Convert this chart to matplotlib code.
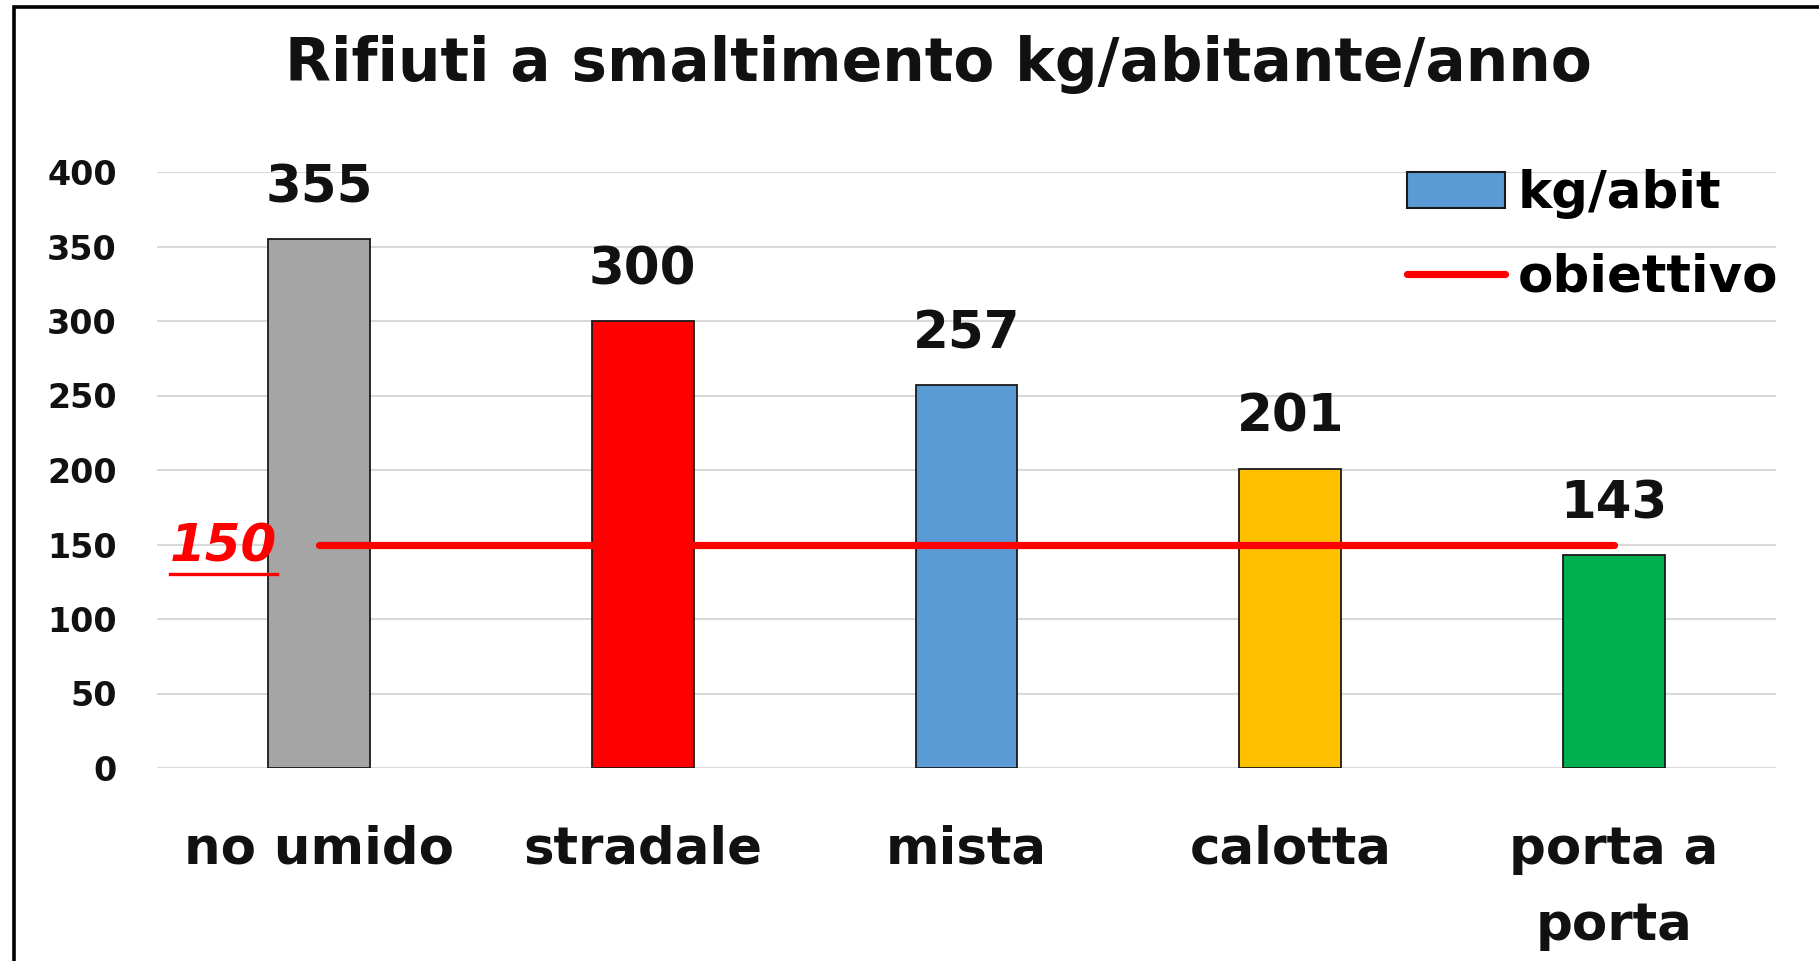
import matplotlib
matplotlib.use("Agg")
import matplotlib.pyplot as plt
from matplotlib.patches import Rectangle, Patch
from matplotlib.lines import Line2D

categories = ["no umido", "stradale", "mista", "calotta", "porta a\nporta"]
values = [355, 300, 257, 201, 143]
bar_colors = ["#A5A5A5", "#FF0000", "#5B9BD5", "#FFC000", "#00B050"]
target = [150, 150, 150, 150, 150]
yticks = [0, 50, 100, 150, 200, 250, 300, 350, 400]
title = "Rifiuti a smaltimento kg/abitante/anno"

plt.rcParams['font.family'] = ['DejaVu Sans']
plt.rcParams['font.weight'] = 'bold'

W, H = 1819, 961
fig = plt.figure(figsize=(W / 100, H / 100), dpi=100)
ax = fig.add_axes([157 / W, 1 - 768 / H, (1776 - 157) / W, (768 - 172) / H])

x = list(range(len(categories)))
bars = ax.bar(x, values, width=0.315, color=bar_colors, edgecolor="#1a1a1a",
              linewidth=1.3, zorder=2)
ax.plot(x, target, color="#FF0000", linewidth=5.2, solid_capstyle="round", zorder=3)

for xi, v in zip(x, values):
    ax.annotate(f"{v}", (xi, v), xytext=(0, 18.5), textcoords="offset points",
                ha="center", va="bottom", fontsize=37, fontweight="bold", color="#111111")

lab150 = ax.annotate(f"{target[0]}", (x[0], target[0]), xytext=(-30, -2), textcoords="offset points",
                     ha="right", va="center", fontsize=37, fontweight="bold",
                     fontstyle="italic", color="#FF0000", zorder=4)

ax.set_xlim(-0.5, len(categories) - 0.5)
ax.set_ylim(0, 400)
ax.set_yticks(yticks)
ax.set_yticklabels([str(t) for t in yticks], fontsize=24, fontweight="bold", color="#111111")
ax.set_xticks(x)
ax.set_xticklabels(categories, fontsize=37, fontweight="bold", color="#111111", linespacing=1.68)
ax.tick_params(axis="y", length=0, pad=29)
ax.tick_params(axis="x", length=0, pad=41)
ax.grid(axis="y", color="#D9D9D9", linewidth=1.5, zorder=0)
ax.set_axisbelow(True)
for s in ax.spines.values():
    s.set_visible(False)

handles = [Patch(facecolor="#5B9BD5", edgecolor="#1a1a1a", linewidth=1.5),
           Line2D([0], [0], color="#FF0000", linewidth=5.2, solid_capstyle="round")]
leg = fig.legend(handles, ["kg/abit", "obiettivo"], loc="upper left",
                 bbox_to_anchor=(1407 / W, 1 - 169 / H), frameon=False,
                 prop={"size": 37, "weight": "bold"}, handlelength=1.9, handleheight=0.68,
                 handletextpad=0.25, labelspacing=0.65, borderpad=0, borderaxespad=0)

fig.text(938 / W, 1 - 65 / H, title, ha="center", va="center", fontsize=43,
         fontweight="bold", color="#111111")

# outer frame (left and top visible, right/bottom cropped)
fig.patches.append(Rectangle((14 / W, -0.05), 1.2, 1 - 7 / H + 0.05, transform=fig.transFigure,
                             fill=False, edgecolor="black", linewidth=2.6, zorder=10))

# underline for the 150 label
fig.canvas.draw()
bb = lab150.get_window_extent()
fig.add_artist(Line2D([bb.x0, bb.x1], [bb.y0 - 2, bb.y0 - 2], color="#FF0000",
                      linewidth=2.4, transform=None))

fig.savefig("out.png", dpi=100)
